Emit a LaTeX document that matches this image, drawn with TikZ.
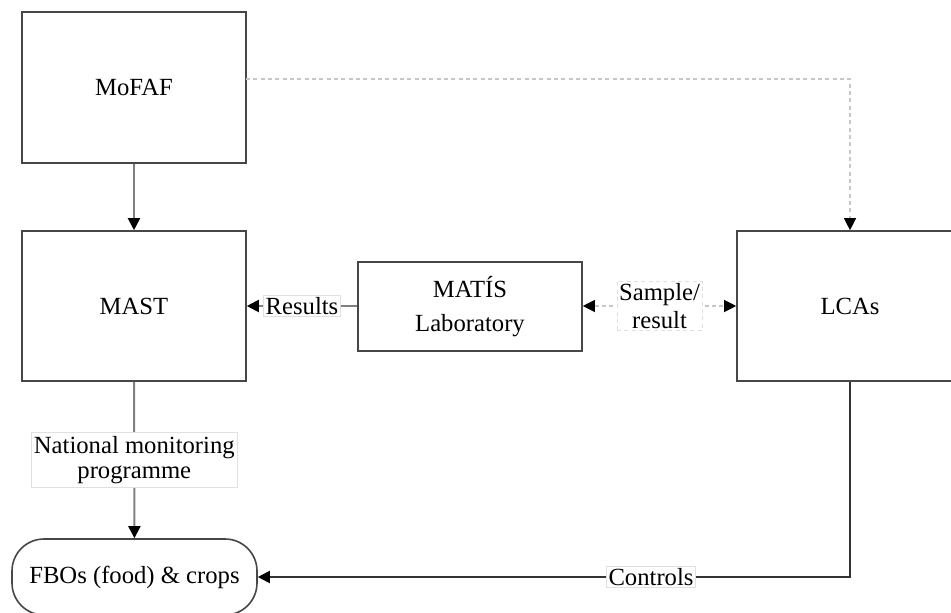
\documentclass[tikz,border=0pt]{standalone}
\usepackage{fontspec}
\setmainfont{Liberation Serif}
\usetikzlibrary{arrows.meta,calc}
\begin{document}
\begin{tikzpicture}[x=0.75pt,y=-0.75pt,
  box/.style={draw=black!72,line width=1.2pt,fill=white,inner sep=0pt,align=center,
    font=\fontsize{18.5}{25}\selectfont},
  lbl/.style={draw=black!12,line width=0.6pt,fill=white,inner sep=1.5pt,align=center,
    font=\fontsize{18.5}{20}\selectfont},
  conn/.style={draw=black!50,line width=1.5pt,-{Triangle[length=9pt,width=9pt,color=black]}},
  dconn/.style={draw=black!22,line width=0.9pt,dash pattern=on 3pt off 2.5pt,
    -{Triangle[length=9pt,width=9pt,color=black]}},
]
\useasboundingbox (0,0) rectangle (951,613);
\clip (0,0) rectangle (951,613);
\fill[white] (0,0) rectangle (951,613);

\node[box,minimum width=168pt,minimum height=113.25pt] (mofaf) at (134,87.5) {MoFAF};
\node[box,minimum width=168pt,minimum height=112.5pt] (mast) at (134,306) {MAST};
\node[box,minimum width=168pt,minimum height=66.75pt] (matis) at (470,306.5) {MATÍS\\Laboratory};
\node[box,minimum width=169.5pt,minimum height=112.5pt] (lcas) at (850,306) {LCAs};
\node[box,minimum width=183.75pt,minimum height=57pt,rounded corners=24pt] (fbos) at (134.5,577) {FBOs (food) \& crops};

\coordinate (d0) at (246,79);
\coordinate (d1) at (850,79);

% MoFAF -> MAST
\draw[conn] (mofaf) -- (mast);
% MoFAF -> LCAs dashed
\draw[dconn] (d0) -- (d1) -- (lcas.north);
% MATIS -> MAST
\draw[conn] (matis.west |- mast.east) -- node[lbl] {Results} (mast.east);
% MATIS <-> LCAs
\draw[dconn,{Triangle[length=9pt,width=9pt,color=black]}-{Triangle[length=9pt,width=9pt,color=black]}]
  (matis.east |- lcas.west) -- node[lbl,font=\fontsize{18.5}{21}\selectfont] {Sample/\\result} (lcas.west);
% MAST -> FBOs
\draw[conn] (mast) -- node[lbl,inner xsep=2pt,inner ysep=3pt,font=\fontsize{18.5}{18.5}\selectfont] {National monitoring\\programme} (fbos);
% LCAs -> FBOs
\draw[conn,draw=black!80] (lcas.south) |- node[lbl,pos=0.668] {Controls} (fbos.east);
\end{tikzpicture}
\end{document}
